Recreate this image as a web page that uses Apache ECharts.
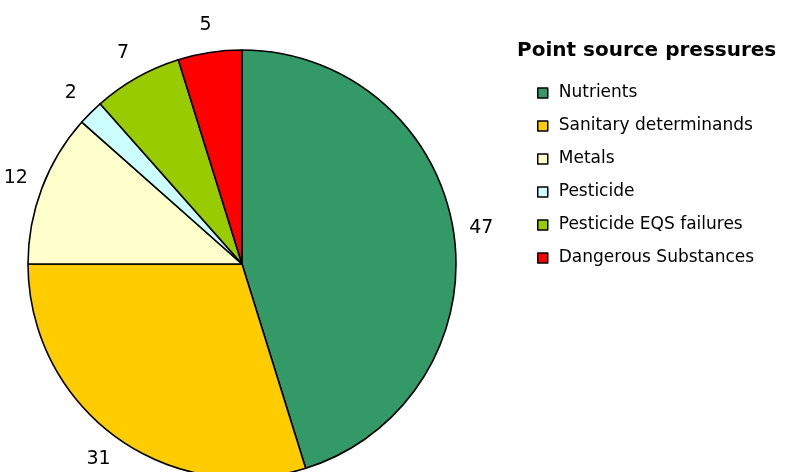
<!DOCTYPE html>
<html>
<head>
<meta charset="utf-8">
<script src="https://cdn.jsdelivr.net/npm/echarts@6/dist/echarts.min.js"></script>
<style>
html,body{margin:0;padding:0;background:#fff;}
#chart{width:787px;height:472px;}
</style>
</head>
<body>
<div id="chart"></div>
<script>
var categories = ['Nutrients', 'Sanitary determinands', 'Metals', 'Pesticide', 'Pesticide EQS failures', 'Dangerous Substances'];
var values = [47, 31, 12, 2, 7, 5];
var colors = ['#339966', '#FFCC00', '#FFFFCC', '#CCFFFF', '#99CC00', '#FF0000'];
var legendTitle = 'Point source pressures';

var chart = echarts.init(document.getElementById('chart'), null, {renderer: 'canvas'});
var mainData = categories.map(function (c, i) {
  return {name: c, value: values[i], itemStyle: {color: colors[i]}};
});
var labelData = categories.map(function (c, i) {
  return {name: c, value: values[i]};
});
chart.setOption({
  animation: false,
  backgroundColor: '#ffffff',
  title: {
    text: legendTitle,
    left: 512,
    top: 36,
    textStyle: {fontFamily: 'DejaVu Sans', fontWeight: 'bold', fontSize: 20, color: '#000'}
  },
  legend: {
    orient: 'vertical',
    left: 532,
    top: 78,
    itemWidth: 10,
    itemHeight: 10,
    itemGap: 13,
    icon: 'rect',
    data: categories,
    itemStyle: {borderColor: '#000', borderWidth: 1.5},
    textStyle: {fontFamily: 'DejaVu Sans', fontSize: 17, color: '#000', lineHeight: 20, padding: [0, 0, 0, 6]},
    selectedMode: false
  },
  series: [
    {
      type: 'pie',
      center: [242, 264],
      radius: 214,
      startAngle: 90,
      clockwise: true,
      avoidLabelOverlap: false,
      label: {show: false},
      labelLine: {show: false},
      emphasis: {disabled: true},
      itemStyle: {borderColor: '#000', borderWidth: 1.6},
      data: mainData
    },
    {
      type: 'pie',
      center: [242, 264],
      radius: [214, 264],
      startAngle: 90,
      clockwise: true,
      silent: true,
      avoidLabelOverlap: false,
      itemStyle: {color: 'rgba(0,0,0,0)', borderWidth: 0},
      label: {
        show: true,
        position: 'inside',
        formatter: '{c}',
        fontFamily: 'DejaVu Sans',
        fontSize: 19,
        color: '#000'
      },
      labelLine: {show: false},
      emphasis: {disabled: true},
      data: labelData
    }
  ]
});
</script>
</body>
</html>
